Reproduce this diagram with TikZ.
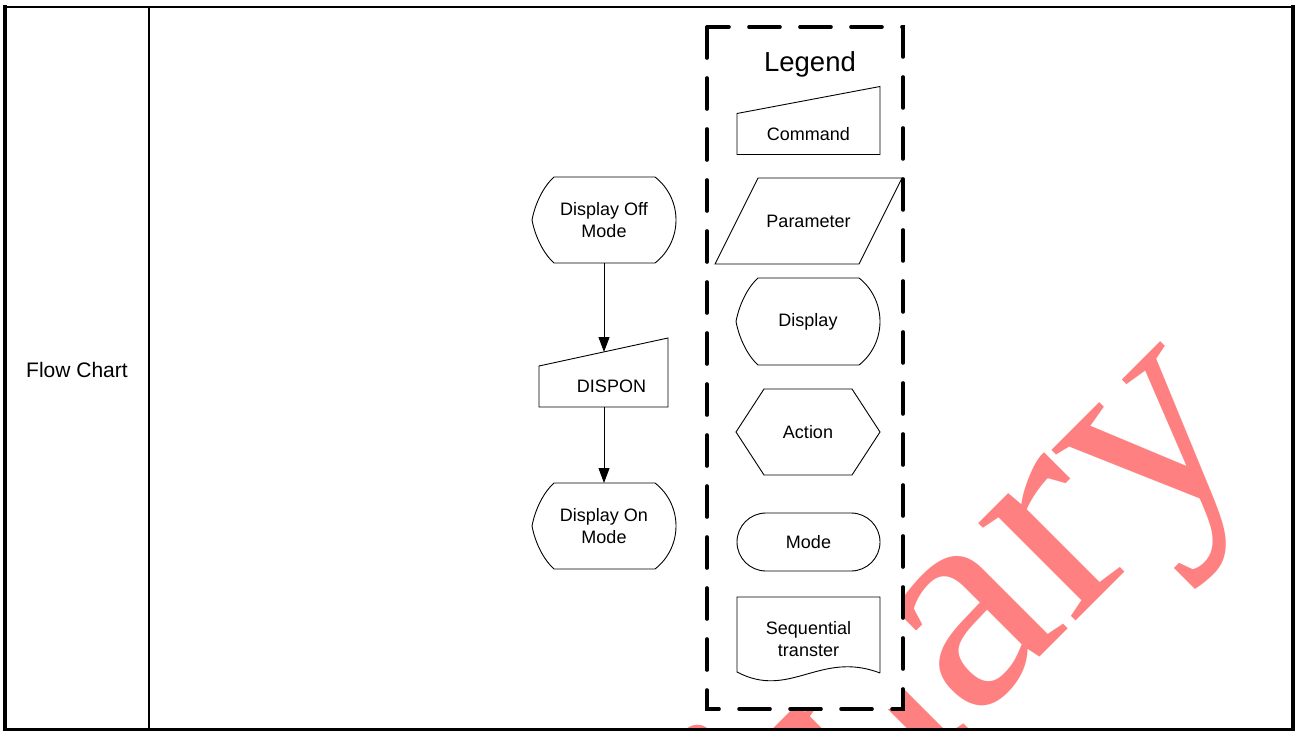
\documentclass[tikz,border=0pt]{standalone}
\usepackage{fontspec}
\setmainfont{Liberation Sans}
\newfontfamily\wmfont{Liberation Serif}
\usetikzlibrary{arrows.meta,calc,shapes.misc}
\definecolor{wmpink}{RGB}{255,128,128}
\newcommand\dispshape[1]{%
  \draw[shp] ($(#1.north west)+(22,0)$) -- ($(#1.north east)+(-21,0)$)
    .. controls ($(#1.north east)+(-7.7,10.3)$) and ($(#1.east)+(0,-16.8)$) .. (#1.east)
    .. controls ($(#1.east)+(0,16.8)$) and ($(#1.south east)+(-7.7,-10.3)$) .. ($(#1.south east)+(-21,0)$)
    -- ($(#1.south west)+(22,0)$)
    .. controls ($(#1.south west)+(11,-10)$) and ($(#1.west)+(3,16)$) .. (#1.west)
    .. controls ($(#1.west)+(3,-16)$) and ($(#1.north west)+(11,10)$) .. cycle;}
\begin{document}
\begin{tikzpicture}[x=1bp,y=-1bp,
  shp/.style={draw=black, line width=0.9bp, line join=miter},
  txt/.style={font=\fontsize{18bp}{22bp}\selectfont, align=center, inner sep=0pt, outer sep=0pt},
  arr/.style={draw=black, line width=0.9bp, -{Triangle[length=15bp,width=11bp]}},
  legbox/.style={draw=black, fill=white, line width=3.6bp, dash pattern=on 31bp off 20bp, line cap=round},
  tline/.style={draw=black, line cap=rect}]
\useasboundingbox (0,0) rectangle (1296,731);
% watermark
\begin{scope}
  \clip (0,0) rectangle (1296,731);
  \node[text=wmpink, font=\wmfont\fontsize{300bp}{300bp}\selectfont, inner sep=0pt,
        rotate=45, xscale=1.06, anchor=base east] (wm) at (1258.6,438.4) {Preliminary};
\end{scope}
% table
\draw[tline, line width=2.5bp] (5,7) -- (1293,7);
\draw[tline, line width=4bp] (5,7) -- (5,729.5);
\draw[tline, line width=4bp] (1293,7) -- (1293,729.5);
\draw[tline, line width=3.5bp] (5,729.5) -- (1293,729.5);
\draw[line width=2bp] (149,7) -- (149,729.5);
\node[font=\fontsize{21bp}{25bp}\selectfont, inner sep=0pt, anchor=base] (fc) at (77,377) {Flow Chart};
% flow chart
\node[txt, minimum width=144bp, minimum height=86bp] (off) at (604,220) {Display Off\\Mode};
\dispshape{off}
\node[txt, minimum width=129bp, minimum height=41bp] (dispon) at (603.5,386.5) {\hspace*{16bp}DISPON};
\draw[shp] (dispon.south west) -- (dispon.north west) -- ($(dispon.north east)+(0,-28)$) -- (dispon.south east) -- cycle;
\node[txt, minimum width=144bp, minimum height=86bp] (on) at (604,526) {Display On\\Mode};
\dispshape{on}
\coordinate (dispin) at ($(dispon.north west)!0.5!(dispon.north east)+(0,-14)$);
\draw[arr] (off.south) -- (off.south |- dispin);
\draw[arr] (dispon.south -| on.north) -- (on.north);
% legend
\draw[legbox] (707,27) rectangle (903,709);
\node[font=\fontsize{27.5bp}{30bp}\selectfont, inner sep=0pt, anchor=base] (leg) at (810,72) {Legend};
\node[txt, minimum width=143bp, minimum height=41bp] (cmd) at (808.5,134) {Command};
\draw[shp] (cmd.south west) -- (cmd.north west) -- ($(cmd.north east)+(0,-27)$) -- (cmd.south east) -- cycle;
\node[txt, minimum width=187bp, minimum height=86bp] (par) at (808.5,221) {Parameter};
\draw[shp] (par.south west) -- ($(par.north west)+(43,0)$) -- (par.north east) -- ($(par.south east)+(-43,0)$) -- cycle;
\node[txt, minimum width=144bp, minimum height=87bp] (dsp) at (808,321.5) {Display};
\dispshape{dsp}
\node[txt, minimum width=144bp, minimum height=86bp] (act) at (808,432) {Action};
\draw[shp] (act.west) -- ($(act.north west)+(28,0)$) -- ($(act.north east)+(-28,0)$) -- (act.east)
  -- ($(act.south east)+(-28,0)$) -- ($(act.south west)+(28,0)$) -- cycle;
\node[txt, shp, rounded rectangle, minimum width=143bp, minimum height=58bp] (mode) at (808.5,542) {Mode};
\node[txt, minimum width=143bp, minimum height=85bp] (seq) at (808.5,639.5) {Sequential\\transter};
\draw[shp] ($(seq.south east)+(0,-9)$) -- (seq.north east) -- (seq.north west) -- ($(seq.south west)+(0,-10)$)
  .. controls ($(seq.south west)+(53,18)$) and ($(seq.south east)+(-60,-32)$) .. ($(seq.south east)+(0,-9)$);
\end{tikzpicture}
\end{document}
